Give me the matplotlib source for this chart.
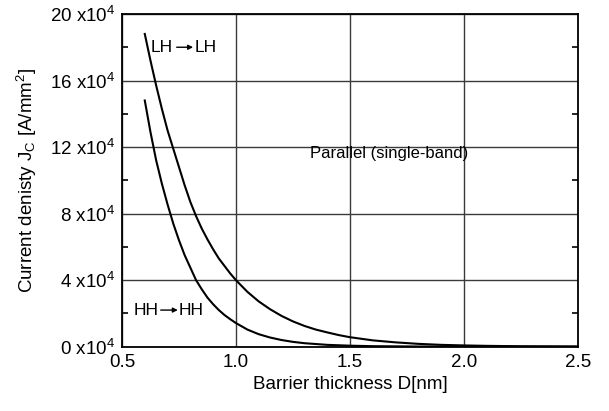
import matplotlib
matplotlib.use("Agg")
import matplotlib.pyplot as plt
from matplotlib.ticker import MultipleLocator

plt.rcParams['font.family'] = ['Liberation Sans', 'DejaVu Sans']
plt.rcParams['mathtext.fontset'] = 'custom'
plt.rcParams['mathtext.rm'] = 'Liberation Sans'
plt.rcParams['mathtext.it'] = 'Liberation Sans'
plt.rcParams['mathtext.default'] = 'regular'

# Barrier thickness D [nm] and LH -> LH current density (units of 1e4 A/mm^2)
D_lh = [0.600, 0.625, 0.650, 0.675, 0.700, 0.725, 0.750, 0.775, 0.800, 0.825,
        0.850, 0.875, 0.900, 0.925, 0.950, 0.975, 1.000, 1.050, 1.100, 1.150,
        1.200, 1.250, 1.300, 1.350, 1.400, 1.450, 1.500, 1.600, 1.700, 1.800,
        1.900, 2.000, 2.100, 2.250, 2.500]
J_lh = [18.8, 17.2, 15.7, 14.3, 13.0, 11.9, 10.8, 9.7, 8.7, 7.85,
        7.1, 6.45, 5.85, 5.3, 4.85, 4.4, 4.0, 3.3, 2.72, 2.25,
        1.85, 1.52, 1.25, 1.03, 0.86, 0.70, 0.57, 0.38, 0.26, 0.17,
        0.11, 0.075, 0.05, 0.025, 0.01]

# HH -> HH current density (units of 1e4 A/mm^2)
D_hh = [0.600, 0.625, 0.650, 0.675, 0.700, 0.725, 0.750, 0.775, 0.800, 0.825,
        0.850, 0.875, 0.900, 0.925, 0.950, 0.975, 1.000, 1.050, 1.100, 1.150,
        1.200, 1.250, 1.300, 1.400, 1.500, 1.600, 1.800, 2.000, 2.500]
J_hh = [14.8, 12.9, 11.2, 9.8, 8.55, 7.4, 6.4, 5.5, 4.75, 4.0,
        3.45, 2.95, 2.55, 2.2, 1.9, 1.65, 1.42, 1.03, 0.75, 0.55,
        0.40, 0.29, 0.21, 0.11, 0.06, 0.03, 0.01, 0.005, 0.0]

y_ticks = [0, 4, 8, 12, 16, 20]
y_ticklabels = [f"{v} x10$^4$" for v in y_ticks]
x_ticks = [0.5, 1.0, 1.5, 2.0, 2.5]
x_ticklabels = ["0.5", "1.0", "1.5", "2.0", "2.5"]

fig = plt.figure(figsize=(6.09, 4.11), dpi=100)
ax = fig.add_axes([0.2003, 0.1565, 0.7485, 0.8095])

ax.plot(D_lh, J_lh, color='black', lw=1.5)
ax.plot(D_hh, J_hh, color='black', lw=1.5)

ax.set_xlim(0.5, 2.5)
ax.set_ylim(0, 20)
ax.set_xticks(x_ticks)
ax.set_xticklabels(x_ticklabels)
ax.set_yticks(y_ticks)
ax.set_yticklabels(y_ticklabels)
ax.yaxis.set_minor_locator(MultipleLocator(2))

ax.grid(True, which='major', color='#3a3a3a', lw=1.0)
ax.tick_params(which='major', direction='in', length=0, labelsize=13.5, pad=5)
ax.tick_params(which='minor', direction='in', length=4, width=1.2,
               left=True, right=True, bottom=False, top=False)
for s in ax.spines.values():
    s.set_linewidth(1.3)
    s.set_color('black')

ax.set_xlabel("Barrier thickness D[nm]", fontsize=13.5, labelpad=4)
ax.set_ylabel("Current denisty J$_C$ [A/mm$^2$]", fontsize=13.5, labelpad=8)

arrow = dict(arrowstyle='-|>', lw=1.0, color='black', mutation_scale=7,
             shrinkA=0, shrinkB=0)
ax.text(0.627, 18.0, "LH", fontsize=12.5, va='center', ha='left')
ax.annotate('', xy=(0.812, 18.0), xytext=(0.740, 18.0), arrowprops=arrow)
ax.text(0.820, 18.0, "LH", fontsize=12.5, va='center', ha='left')

ax.text(0.553, 2.2, "HH", fontsize=12.5, va='center', ha='left')
ax.annotate('', xy=(0.745, 2.2), xytext=(0.670, 2.2), arrowprops=arrow)
ax.text(0.750, 2.2, "HH", fontsize=12.5, va='center', ha='left')

ax.text(1.324, 11.6, "Parallel (single-band)", fontsize=12, va='center', ha='left')

fig.savefig("out.png", dpi=100)
